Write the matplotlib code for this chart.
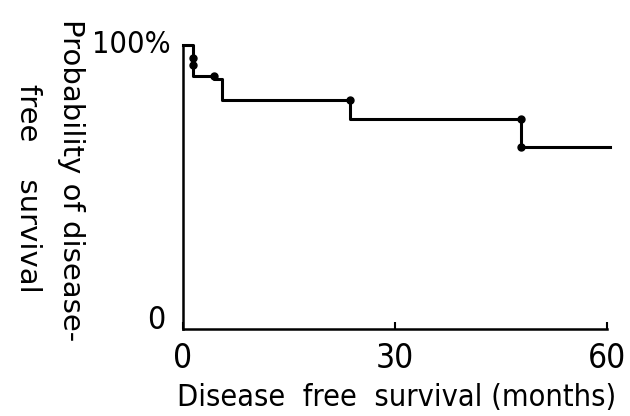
import matplotlib
matplotlib.use("Agg")
from matplotlib import pyplot as plt

# Kaplan-Meier steps
months = [0, 1.4, 4.4, 5.5, 23.6, 47.8, 60.4]
surv = [1.0, 0.891, 0.880, 0.806, 0.739, 0.641, 0.641]

# censored / event dots
dot_t = [1.4, 1.4, 4.4, 23.6, 47.8, 47.8]
dot_s = [0.954, 0.930, 0.891, 0.806, 0.739, 0.641]

x_ticks = [0, 30, 60]
x_ticklabels = ["0", "30", "60"]
y_ticks = [0, 1.0]
y_ticklabels = ["0", "100%"]

plt.rcParams["font.family"] = ["DejaVu Sans"]
plt.rcParams["font.stretch"] = "condensed"

fig = plt.figure(figsize=(6.3, 4.16), dpi=100)
ax = fig.add_axes([0.2905, 0.209, 0.679, 0.683])

ax.step(months, surv, where="post", color="black", lw=2.2, clip_on=False)
ax.plot(dot_t, dot_s, "o", color="black", ms=5, clip_on=False)

ax.set_xlim(0, 60.5)
ax.set_ylim(0, 1.0)
for s in ["top", "right"]:
    ax.spines[s].set_visible(False)
ax.spines["bottom"].set_bounds(0, 60)
ax.spines["left"].set_linewidth(1.8)
ax.spines["bottom"].set_linewidth(1.8)

ax.set_xticks(x_ticks)
ax.set_xticklabels(x_ticklabels, fontsize=24)
ax.tick_params(axis="x", direction="in", length=5, width=1.5, pad=9)
ax.set_yticks([])
ax.text(-1.8, y_ticks[1], y_ticklabels[1], ha="right", va="center", fontsize=22)
ax.text(-2.5, y_ticks[0], y_ticklabels[0], ha="right", va="baseline", fontsize=23)

ax.set_xlabel("Disease  free  survival (months)", fontsize=22, labelpad=6)

fig.text(0.113, 0.567, "Probability of disease-", rotation=270,
         ha="center", va="center", fontsize=21, stretch="normal")
fig.text(0.045, 0.548, "free    survival", rotation=270,
         ha="center", va="center", fontsize=21, stretch="normal")

fig.savefig("out.png", dpi=100)
